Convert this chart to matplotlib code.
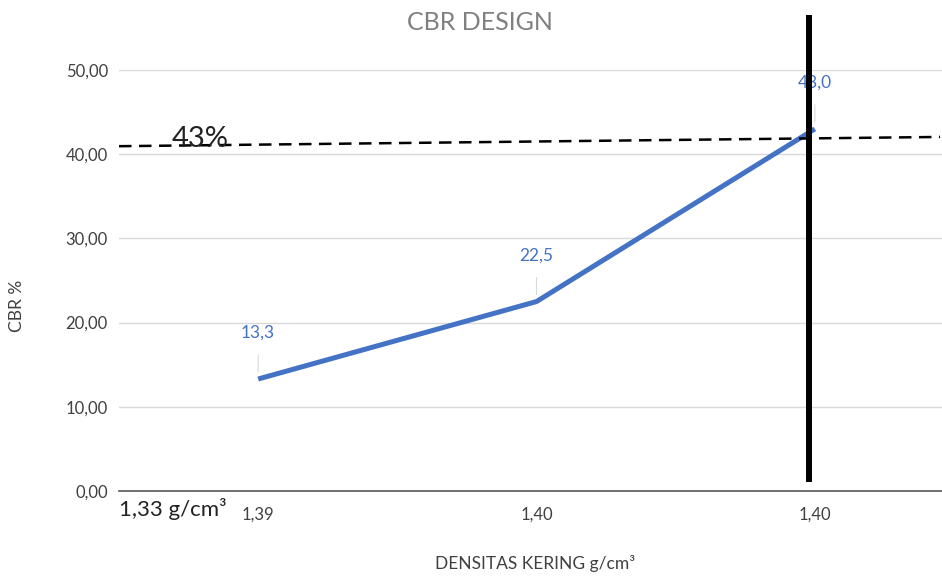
import matplotlib
matplotlib.use("Agg")
import matplotlib.pyplot as plt

# CBR test results against dry density
densitas = ["1,39", "1,40", "1,40"]
cbr = [13.3, 22.5, 43.0]
cbr_labels = ["13,3", "22,5", "43,0"]
y_ticks = [0, 10, 20, 30, 40, 50]
y_tick_labels = ["0,00", "10,00", "20,00", "30,00", "40,00", "50,00"]

# hand-drawn design marks: 43% reference line and the design-density line
design_line_x = [-0.5, 2.45]
design_line_y = [40.95, 42.05]
design_x = 1.98
design_y = [1.1, 56.5]

plt.rcParams["font.family"] = ["Lato", "DejaVu Sans"]

fig = plt.figure(figsize=(9.42, 5.77), dpi=100)
ax = fig.add_axes([119 / 942, 86 / 577, 835 / 942, 421 / 577])

xs = list(range(len(cbr)))
ax.plot(xs, cbr, color="#4472C4", lw=3.6, solid_capstyle="butt", zorder=3)

for x, y, lab in zip(xs, cbr, cbr_labels):
    ax.annotate(lab, xy=(x, y), xytext=(0, 46), textcoords="offset pixels",
                ha="center", va="center", fontsize=12.5, color="#4472C4",
                arrowprops=dict(arrowstyle="-", color="#d9d9d9", lw=0.8,
                                shrinkA=8, shrinkB=5),
                zorder=4)

ax.set_xlim(-0.5, 2.5)
ax.set_ylim(0, 50)
ax.set_xticks(xs)
ax.set_xticklabels(densitas)
ax.set_yticks(y_ticks)
ax.set_yticklabels(y_tick_labels)
ax.tick_params(axis="both", length=0, labelsize=12, labelcolor="#404040")
ax.tick_params(axis="x", pad=11)
ax.tick_params(axis="y", pad=8)

ax.grid(axis="y", color="#d9d9d9", lw=1)
ax.set_axisbelow(True)
for s in ["top", "right", "left"]:
    ax.spines[s].set_visible(False)
ax.spines["bottom"].set_color("#595959")
ax.spines["bottom"].set_linewidth(1.2)

ax.plot(design_line_x, design_line_y, color="black", lw=1.8,
        dashes=(5, 3), zorder=5, clip_on=False)
ax.plot([design_x, design_x], design_y, color="black", lw=4.3,
        zorder=6, clip_on=False, solid_capstyle="butt")

ax.text(-0.31, 40.9, "43%", fontsize=21, color="#222222",
        ha="left", va="baseline", zorder=7)
ax.text(-0.5, -0.8, "1,33 g/cm³", fontsize=16, color="#222222",
        ha="left", va="top", zorder=7)

ax.set_ylabel("CBR %", fontsize=12.5, color="#404040")
ax.yaxis.set_label_coords(-0.113, 0.44)
fig.text(535 / 942, 1 - 564 / 577, "DENSITAS KERING g/cm³", fontsize=12.5,
         color="#404040", ha="center", va="center")
fig.text(480 / 942, 1 - 22 / 577, "CBR DESIGN", fontsize=18,
         color="#808080", ha="center", va="center")

fig.savefig("out.png", dpi=100)
